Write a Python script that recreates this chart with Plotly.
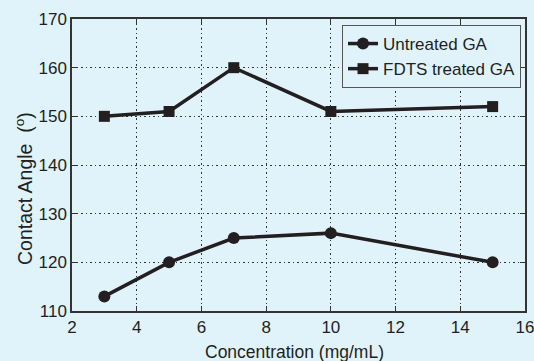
import plotly.graph_objects as go

concentration = [3, 5, 7, 10, 15]
untreated = [113, 120, 125, 126, 120]
fdts = [150, 151, 160, 151, 152]
x_ticks = [2, 4, 6, 8, 10, 12, 14, 16]
y_ticks = [110, 120, 130, 140, 150, 160, 170]

BG = "#e0f3fb"
INK = "#231f20"
FONT = "Liberation Sans, Arial, sans-serif"

fig = go.Figure()
fig.add_trace(go.Scatter(x=concentration, y=untreated, mode="lines+markers",
                         name="Untreated GA",
                         line=dict(color=INK, width=3.5),
                         marker=dict(symbol="circle", size=12, color=INK)))
fig.add_trace(go.Scatter(x=concentration, y=fdts, mode="lines+markers",
                         name="FDTS treated GA",
                         line=dict(color=INK, width=3.5),
                         marker=dict(symbol="square", size=11, color=INK)))

axis_common = dict(showline=True, linecolor="#333333", linewidth=1.5, mirror="ticks",
                   ticks="inside", ticklen=5, tickcolor="#333333",
                   showgrid=True, gridcolor="#333333", griddash="1.5px,3px", gridwidth=1.3,
                   zeroline=False, automargin=False, ticklabeloverflow="allow",
                   tickfont=dict(size=17, color=INK, family=FONT))

fig.update_xaxes(range=[2, 16], tickvals=x_ticks, **axis_common)
fig.update_yaxes(range=[110, 170], tickvals=y_ticks, **axis_common)

L, R, T, B = 72, 9, 19, 50
W, H = 534, 361
pw, ph = W - L - R, H - T - B

fig.add_annotation(text="Concentration (mg/mL)", xref="paper", yref="paper",
                   x=(294 - L) / pw, y=(T + ph - 352) / ph, showarrow=False,
                   xanchor="center", yanchor="middle",
                   font=dict(size=17.5, color=INK, family=FONT))
fig.add_annotation(text="Contact Angle  (<sup>o</sup>)", xref="paper", yref="paper",
                   x=(24 - L) / pw, y=(T + ph - 189) / ph, showarrow=False,
                   xanchor="center", yanchor="middle", textangle=-90,
                   font=dict(size=19.5, color=INK, family=FONT))

fig.update_layout(
    width=W, height=H,
    margin=dict(l=L, r=R, t=T, b=B),
    paper_bgcolor=BG, plot_bgcolor=BG,
    showlegend=True,
    legend=dict(x=(521 - L) / pw, y=(T + ph - 25) / ph, xanchor="right", yanchor="top",
                bgcolor=BG, bordercolor="#555555", borderwidth=1,
                font=dict(size=17, color=INK, family=FONT),
                itemwidth=30, tracegroupgap=0),
)

fig.write_html("out.html", config={"displayModeBar": False},
               post_script="document.body.style.margin='0';document.body.style.background='" + BG + "';")
